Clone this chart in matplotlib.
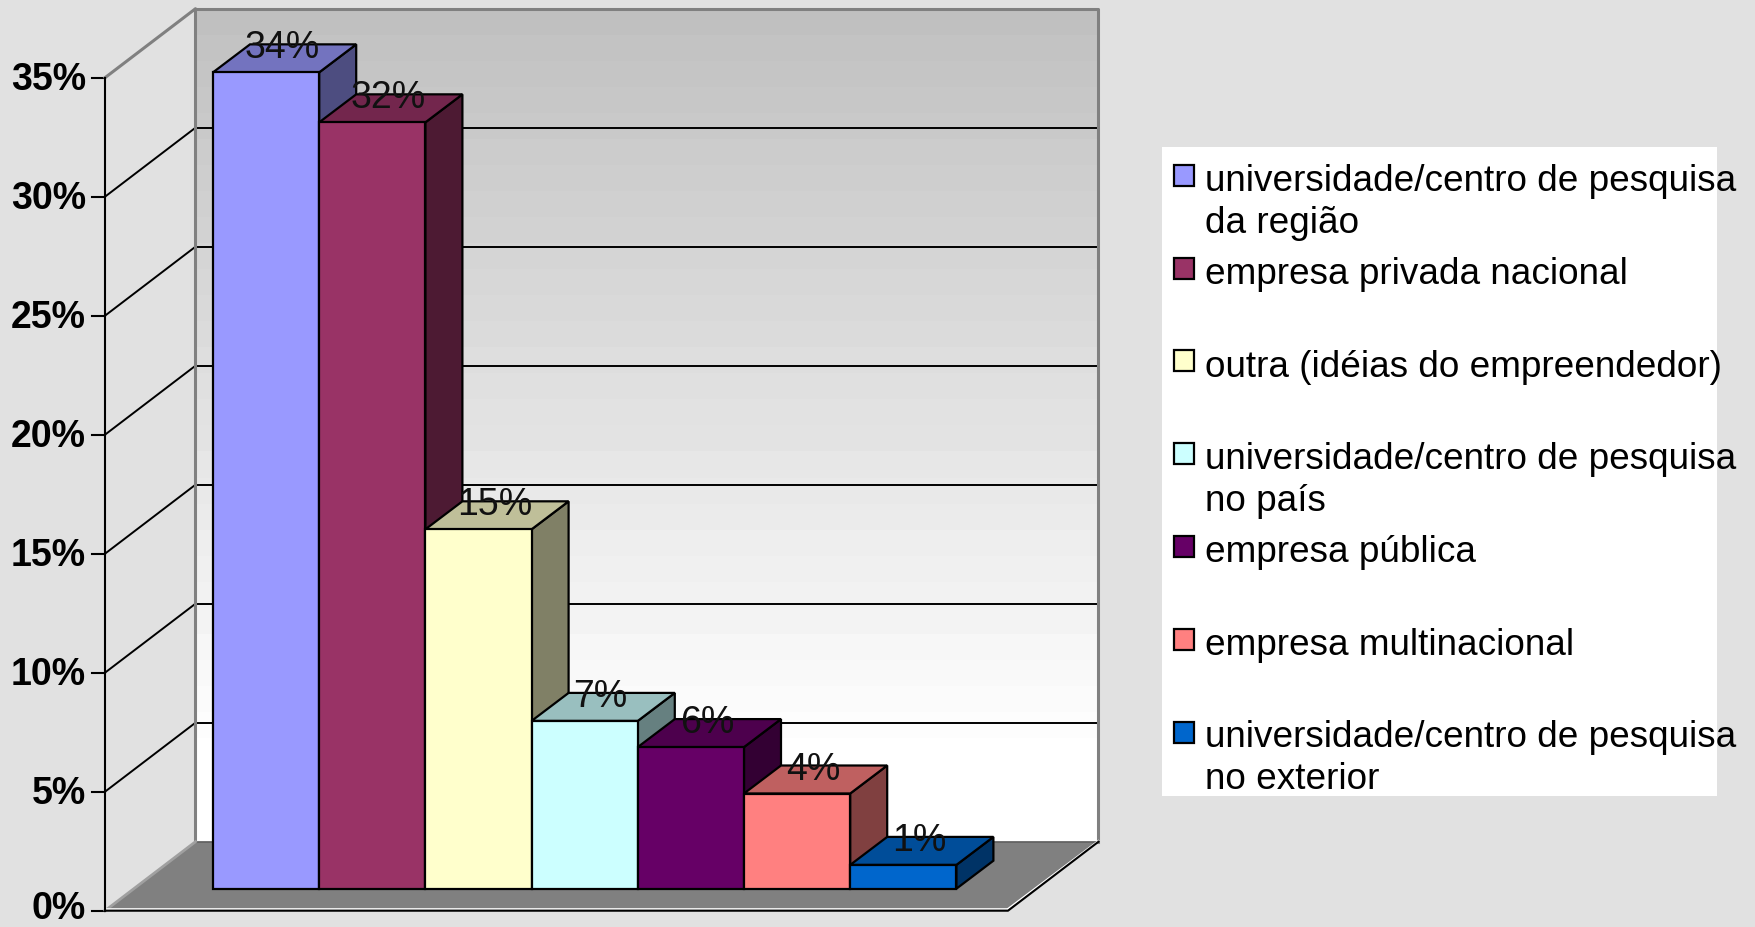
import matplotlib
matplotlib.use("Agg")
import matplotlib.pyplot as plt
import numpy as np
from matplotlib.colors import to_rgb

plt.rcParams['font.family'] = ['Liberation Sans', 'DejaVu Sans']

values = [34.3, 32.2, 15.1, 7.05, 5.95, 4.0, 1.0]
value_labels = ['34%', '32%', '15%', '7%', '6%', '4%', '1%']
colors = ['#9999FF', '#993366', '#FFFFCC', '#CCFFFF', '#660066', '#FF8080', '#0066CC']
legend_labels = ['universidade/centro de pesquisa\nda região',
                 'empresa privada nacional',
                 'outra (idéias do empreendedor)',
                 'universidade/centro de pesquisa\nno país',
                 'empresa pública',
                 'empresa multinacional',
                 'universidade/centro de pesquisa\nno exterior']
y_ticks = [0, 5, 10, 15, 20, 25, 30, 35]

W, H = 1756, 927
# one bar is 106.2 px wide, 1% is 23.8 px tall, 0% sits at y=910.7 px
XS, YS = 106.2, 23.8
X0, Y0 = 213, 910.7

fig = plt.figure(figsize=(W / 100, H / 100), dpi=100, facecolor='#e1e1e1')
ax = fig.add_axes([0, 0, 1, 1])
ax.set_xlim(-X0 / XS, (W - X0) / XS)
ax.set_ylim(-(H - Y0) / YS, Y0 / YS)
ax.axis('off')

axis_x = (105 - X0) / XS
floor_end = (1008 - X0) / XS
wall_dx = 90.5 / XS
wall_dy = 69 / YS
bar_dx = 37 / XS
bar_dy = 28 / YS
bar_base = 22 / YS
top = max(y_ticks)
wall_l, wall_r = axis_x + wall_dx, floor_end + wall_dx

# back wall, grey at the top fading to white
grad = np.linspace(0, 1, 32).reshape(-1, 1)
grad = np.clip(0.753 + 0.274 * grad, 0, 1)
ax.imshow(grad, extent=[wall_l, wall_r, wall_dy, wall_dy + top], origin='upper', cmap='gray',
          vmin=0, vmax=1, aspect='auto', interpolation='nearest', zorder=0)
ax.set_xlim(-X0 / XS, (W - X0) / XS)
ax.set_ylim(-(H - Y0) / YS, Y0 / YS)

# floor
ax.fill([axis_x, floor_end, wall_r, wall_l], [0, 0, wall_dy, wall_dy], color='#808080', lw=0, zorder=1)

# gridlines
for t in y_ticks[1:-1]:
    ax.plot([wall_l, wall_r], [wall_dy + t, wall_dy + t], color='black', lw=1.4, zorder=1)
    ax.plot([axis_x, wall_l], [t, wall_dy + t], color='black', lw=1.4, zorder=1)
for t in y_ticks:
    ax.plot([axis_x - 13 / XS, axis_x], [t, t], color='black', lw=1.5, zorder=1)
    # the 0% label sits a little higher so it stays inside the figure
    drop = 8 if t == 0 else 12
    ax.text(axis_x - 19 / XS, t - drop / YS, '%d%%' % t, ha='right', va='baseline',
            fontsize=27, fontweight='bold', color='black')

# wall frame
ax.plot([axis_x, wall_l, wall_l], [top, wall_dy + top, wall_dy], color='#808080', lw=2.2, zorder=1)
ax.plot([wall_l, wall_r, wall_r], [wall_dy + top, wall_dy + top, wall_dy], color='#808080', lw=2.2, zorder=1)
ax.plot([wall_l, wall_r], [wall_dy, wall_dy], color='#606060', lw=1.2, zorder=1)
ax.plot([axis_x, wall_l], [0, wall_dy], color='#a0a0a0', lw=2, zorder=1)
ax.plot([floor_end, wall_r], [2 / YS, wall_dy + 1 / YS], color='white', lw=1.2, zorder=1)
ax.plot([axis_x, floor_end], [2 / YS, 2 / YS], color='white', lw=1.2, zorder=1)

# axis lines
ax.plot([axis_x, axis_x], [0, top], color='black', lw=1.5, zorder=1)
ax.plot([axis_x, floor_end, wall_r], [0, 0, wall_dy], color='black', lw=1.5, zorder=1)

# bars, left to right so each one covers the side of the previous
for i, (v, c) in enumerate(zip(values, colors)):
    rgb = np.array(to_rgb(c))
    y1 = bar_base + v
    ax.fill([i + 1, i + 1 + bar_dx, i + 1 + bar_dx, i + 1],
            [bar_base, bar_base + bar_dy, y1 + bar_dy, y1],
            facecolor=rgb * 0.5, edgecolor='black', lw=1.6, zorder=3 * i + 2)
    ax.fill([i, i + bar_dx, i + 1 + bar_dx, i + 1],
            [y1, y1 + bar_dy, y1 + bar_dy, y1],
            facecolor=rgb * 0.75, edgecolor='black', lw=1.6, zorder=3 * i + 3)
    ax.bar(i, v, width=1, bottom=bar_base, align='edge', color=c, edgecolor='black', lw=1.6, zorder=3 * i + 4)

for i, (v, s) in enumerate(zip(values, value_labels)):
    ax.text(i + 0.5 + 16 / XS, bar_base + v + bar_dy - 14 / YS, s, ha='center', va='baseline',
            fontsize=27, color='#111111', zorder=50)

# legend, placed by hand in pixels as the spacing is uneven
legend_box = plt.Rectangle((1162 / W, 1 - 796 / H), (1717 - 1162) / W, (796 - 147) / H,
                           transform=fig.transFigure, facecolor='white', edgecolor='none', zorder=60)
ax.add_patch(legend_box)
swatch_tops = [165, 258, 350, 443, 536, 629, 722]
baselines = [191, 284, 377, 469, 562, 655, 747]
for label, c, st, bl in zip(legend_labels, colors, swatch_tops, baselines):
    ax.add_patch(plt.Rectangle((1174 / W, 1 - (st + 21) / H), 20 / W, 21 / H, transform=fig.transFigure,
                               facecolor=c, edgecolor='black', lw=1.6, zorder=61))
    for k, line in enumerate(label.split('\n')):
        ax.text(1205 / W, 1 - (bl + k * 42) / H, line, transform=fig.transFigure, ha='left', va='baseline',
                fontsize=26.6, color='black', zorder=62)

fig.savefig('out.png', dpi=100, facecolor=fig.get_facecolor())
